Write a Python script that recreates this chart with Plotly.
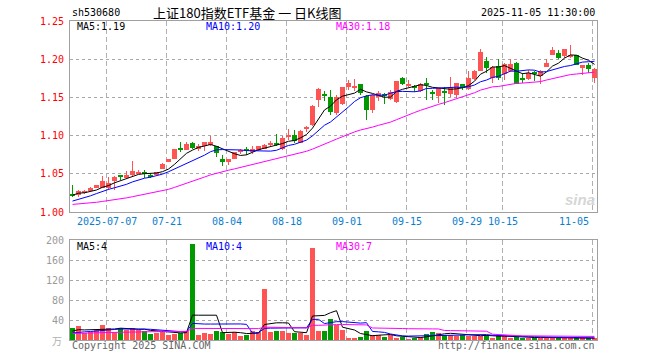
import plotly.graph_objects as go
import numpy as np
import pandas as pd

# ---------------- data ----------------
dates = [d.strftime("%Y-%m-%d") for d in pd.bdate_range("2025-06-27", "2025-11-05")
         if not ("2025-10-01" <= d.strftime("%Y-%m-%d") <= "2025-10-08")]

open_ = [1.023, 1.022, 1.025, 1.028, 1.032, 1.032, 1.031, 1.040, 1.047, 1.045,
         1.048, 1.051, 1.052, 1.049, 1.048, 1.056, 1.066, 1.069, 1.084, 1.081,
         1.090, 1.083, 1.087, 1.088, 1.086, 1.070, 1.066, 1.069, 1.079, 1.083,
         1.079, 1.081, 1.083, 1.088, 1.089, 1.083, 1.098, 1.101, 1.090, 1.109,
         1.114, 1.147, 1.153, 1.150, 1.130, 1.141, 1.163, 1.163, 1.168, 1.152,
         1.134, 1.151, 1.153, 1.148, 1.144, 1.175, 1.165, 1.165, 1.158, 1.169,
         1.156, 1.152, 1.157, 1.155, 1.153, 1.167, 1.161, 1.174, 1.185, 1.198,
         1.176, 1.191, 1.181, 1.184, 1.195, 1.175, 1.174, 1.182, 1.178, 1.190,
         1.206, 1.208, 1.204, 1.204, 1.206, 1.188, 1.193, 1.176]
high = [1.035, 1.029, 1.029, 1.033, 1.036, 1.047, 1.046, 1.047, 1.049, 1.054,
        1.067, 1.055, 1.055, 1.051, 1.053, 1.064, 1.070, 1.083, 1.091, 1.091,
        1.091, 1.089, 1.092, 1.100, 1.087, 1.075, 1.070, 1.079, 1.083, 1.085,
        1.086, 1.087, 1.089, 1.093, 1.102, 1.100, 1.108, 1.107, 1.107, 1.113,
        1.140, 1.162, 1.158, 1.160, 1.153, 1.164, 1.173, 1.174, 1.168, 1.153,
        1.154, 1.159, 1.156, 1.160, 1.171, 1.177, 1.173, 1.166, 1.169, 1.175,
        1.160, 1.162, 1.163, 1.177, 1.169, 1.168, 1.184, 1.186, 1.213, 1.203,
        1.191, 1.200, 1.195, 1.200, 1.196, 1.182, 1.186, 1.184, 1.186, 1.200,
        1.216, 1.212, 1.214, 1.219, 1.206, 1.193, 1.195, 1.189]
low = [1.020, 1.020, 1.024, 1.027, 1.031, 1.031, 1.029, 1.029, 1.042, 1.044,
       1.046, 1.050, 1.044, 1.044, 1.048, 1.056, 1.065, 1.069, 1.079, 1.081,
       1.083, 1.080, 1.080, 1.087, 1.072, 1.060, 1.062, 1.069, 1.076, 1.075,
       1.076, 1.080, 1.082, 1.086, 1.086, 1.081, 1.094, 1.090, 1.090, 1.105,
       1.113, 1.138, 1.145, 1.127, 1.127, 1.140, 1.160, 1.158, 1.153, 1.121,
       1.129, 1.145, 1.142, 1.146, 1.143, 1.166, 1.163, 1.157, 1.157, 1.147,
       1.147, 1.143, 1.140, 1.150, 1.149, 1.160, 1.160, 1.173, 1.184, 1.182,
       1.169, 1.173, 1.173, 1.183, 1.167, 1.169, 1.173, 1.172, 1.167, 1.190,
       1.205, 1.200, 1.202, 1.202, 1.193, 1.179, 1.182, 1.169]
close = [1.022, 1.027, 1.028, 1.032, 1.035, 1.040, 1.038, 1.046, 1.046, 1.048,
         1.054, 1.052, 1.051, 1.046, 1.052, 1.063, 1.069, 1.082, 1.081, 1.089,
         1.084, 1.087, 1.091, 1.091, 1.077, 1.066, 1.069, 1.078, 1.080, 1.081,
         1.083, 1.086, 1.088, 1.089, 1.088, 1.097, 1.101, 1.093, 1.106, 1.110,
         1.139, 1.161, 1.152, 1.131, 1.151, 1.163, 1.169, 1.164, 1.156, 1.134,
         1.153, 1.156, 1.152, 1.157, 1.171, 1.167, 1.166, 1.162, 1.167, 1.166,
         1.155, 1.162, 1.156, 1.164, 1.169, 1.162, 1.176, 1.185, 1.210, 1.188,
         1.190, 1.176, 1.194, 1.194, 1.167, 1.174, 1.182, 1.181, 1.185, 1.195,
         1.212, 1.201, 1.214, 1.206, 1.193, 1.193, 1.187, 1.187]
# volume, unit 万
volume = [25, 28, 15, 17, 21, 30, 25, 17, 25, 20,
          25, 20, 18, 13, 15, 17, 11, 13, 15, 18,
          192, 10, 15, 13, 18, 17, 13, 17, 8, 10,
          18, 17, 102, 17, 18, 18, 15, 15, 15, 10,
          185, 18, 18, 42, 30, 20, 5, 3, 7, 18,
          10, 10, 7, 10, 5, 7, 1.5, 5, 6, 13,
          17, 15, 11, 11, 8, 11, 8, 8, 8, 11,
          4, 8, 8, 4.5, 6.5, 4.5, 4.5, 5.5, 4.5, 5,
          6, 4, 3.5, 4, 3.5, 4, 3.5, 3.5]
# sessions before the visible window (estimated from where the MA lines start)
pre_close = [1.010, 1.008, 1.009, 1.011, 1.007, 1.009, 1.010, 1.008, 1.011, 1.008,
             1.006, 1.009, 1.010, 1.008, 1.007, 1.004, 1.006, 1.005, 1.005, 1.004,
             1.006, 1.005, 1.007, 1.006, 1.009, 1.014, 1.025, 1.024, 1.025]
pre_volume = [12, 13, 12, 13, 12, 13, 12, 13, 12, 13,
              12, 13, 12, 13, 12, 13, 12, 13, 12, 13,
              9, 11, 10, 9, 11, 15, 17, 16, 17]

tick_pos = [6, 16, 26, 36, 46, 56, 66, 72, 87]
tick_text = ["2025-07-07", "07-21", "08-04", "08-18", "09-01", "09-15", "09-29", "10-15", "11-05"]

# ---------------- derived ----------------
n = len(close)
idx = np.arange(n)
O, H, L, C = map(np.array, (open_, high, low, close))
V = np.array(volume, dtype=float)
RED, GREEN = "#ff5454", "#009a00"
cols = [RED if c >= o else GREEN for o, c in zip(O, C)]


def ma(pre, vals, k):
    s = pd.Series(list(pre) + list(vals), dtype=float).rolling(k).mean()
    return s.values[len(pre):]


px5, px10, px30 = ma(pre_close, close, 5), ma(pre_close, close, 10), ma(pre_close, close, 30)
v5, v10, v30 = ma(pre_volume, volume, 5), ma(pre_volume, volume, 10), ma(pre_volume, volume, 30)

W, Hh = 660, 360
X0, X1 = 70, 597
xr = [-(72.5 - X0) / 6, -(72.5 - X0) / 6 + (X1 - X0) / 6]
xd = [X0 / W, X1 / W]


def fy(py):
    return 1 - py / Hh


MONO = "DejaVu Sans Mono"
fig = go.Figure()

# wicks and bodies
fig.add_trace(go.Bar(x=idx, y=H - L, base=L, width=1 / 6, marker=dict(color=cols, line=dict(width=0)),
                     xaxis="x", yaxis="y", hoverinfo="skip"))
body_lo = np.minimum(O, C)
body_h = np.maximum(np.abs(C - O), 0.0013)
fig.add_trace(go.Bar(x=idx, y=body_h, base=body_lo, width=5 / 6, marker=dict(color=cols, line=dict(width=0)),
                     xaxis="x", yaxis="y", customdata=dates, hovertemplate="%{customdata}<extra></extra>"))
for arr, c in ((px5, "#000000"), (px10, "#0000ff"), (px30, "#ff00ff")):
    fig.add_trace(go.Scatter(x=idx, y=arr, mode="lines", line=dict(color=c, width=1),
                             xaxis="x", yaxis="y", hoverinfo="skip"))

# volume
fig.add_trace(go.Bar(x=idx, y=V, width=5 / 6, marker=dict(color=cols, line=dict(width=0)),
                     xaxis="x2", yaxis="y2", hoverinfo="skip"))
for arr, c in ((v5, "#000000"), (v10, "#0000ff"), (v30, "#ff00ff")):
    fig.add_trace(go.Scatter(x=idx, y=arr, mode="lines", line=dict(color=c, width=1),
                             xaxis="x2", yaxis="y2", hoverinfo="skip"))

grid_x = [p - 1 / 3 for p in tick_pos]
axis_common = dict(showline=True, mirror=True, linecolor="#a0a0a0", linewidth=1, zeroline=False,
                   ticks="", showticklabels=False)
fig.update_layout(
    width=W, height=Hh, margin=dict(l=0, r=0, t=0, b=0), paper_bgcolor="white", plot_bgcolor="white",
    showlegend=False, barmode="overlay", bargap=0,
    xaxis=dict(domain=xd, range=xr, tickvals=grid_x, showgrid=True, gridcolor="#b0b0b0",
               griddash="5px,3px", gridwidth=1, **axis_common),
    yaxis=dict(domain=[fy(212), fy(21)], range=[1.0, 1.25], tickvals=[1.05, 1.10, 1.15, 1.20],
               showgrid=True, gridcolor="#a8a8a8", griddash="dot", gridwidth=1, **axis_common),
    xaxis2=dict(domain=xd, range=xr, tickvals=grid_x, showgrid=True, gridcolor="#b0b0b0",
                griddash="5px,3px", gridwidth=1, anchor="y2", **axis_common),
    yaxis2=dict(domain=[fy(340), fy(240)], range=[0, 200], tickvals=[40, 80, 120, 160],
                showgrid=True, gridcolor="#a8a8a8", griddash="dot", gridwidth=1, anchor="x2", **axis_common),
)

ann = []


def text(t, x, y, color="#000000", size=10, family=MONO, anchor="left"):
    ann.append(dict(text=t, x=x / W, y=fy(y), xref="paper", yref="paper", xanchor=anchor, yanchor="middle",
                    showarrow=False, font=dict(family=family, size=size, color=color)))


text("sh530680", 70, 13)
text("上证180指数ETF基金 一 日K线图", 247, 13, size=13, family="Noto Sans CJK SC", anchor="center")
text("2025-11-05 11:30:00", 597, 13, anchor="right")

# price axis labels
for v in [1.00, 1.05, 1.10, 1.15, 1.20, 1.25]:
    ann.append(dict(text=f"{v:.2f}", x=66 / W, y=v, xref="paper", yref="y", xanchor="right",
                    yanchor="middle", showarrow=False, font=dict(family=MONO, size=10, color="#ff0000")))
# volume axis labels
for v in [40, 80, 120, 160, 200]:
    ann.append(dict(text=f"{v}", x=66 / W, y=v, xref="paper", yref="y2", xanchor="right",
                    yanchor="middle", showarrow=False, font=dict(family=MONO, size=10, color="#9a9a9a")))
text("万", 64, 340, color="#b0b0b0", size=10, family="Noto Sans CJK SC", anchor="right")

# date labels
for p, t in zip(tick_pos, tick_text):
    xp = 72.5 + 6 * p - 2.5 + 0.5
    if p == tick_pos[-1]:
        text(t, 591, 221.5, color="#0a7ecf", anchor="right")
    else:
        text(t, xp, 221.5, color="#0a7ecf", anchor="center")

# MA legends
text(f"MA5:{px5[-1]:.2f}", 75, 27, color="#000000")
text(f"MA10:{px10[-1]:.2f}", 204, 27, color="#0000ff")
text(f"MA30:{px30[-1]:.2f}", 334, 27, color="#ff00ff")
text(f"MA5:{v5[-1]:.0f}", 75, 246, color="#000000")
text(f"MA10:{v10[-1]:.0f}", 204, 246, color="#0000ff")
text(f"MA30:{v30[-1]:.0f}", 334, 246, color="#ff00ff")

text("Copyright 2025 SINA.COM", 70, 345.5, color="#666666")
text("http://finance.sina.com.cn", 597, 345.5, color="#666666", anchor="right")
text("<i><b>sina</b></i>", 580, 199, color="#d6d6d6", size=15, family="Arial, Liberation Sans", anchor="center")

fig.update_layout(annotations=ann)
fig.write_html("out.html", config={"displayModeBar": False},
               post_script="document.body.style.margin='0';document.body.style.overflow='hidden';")
